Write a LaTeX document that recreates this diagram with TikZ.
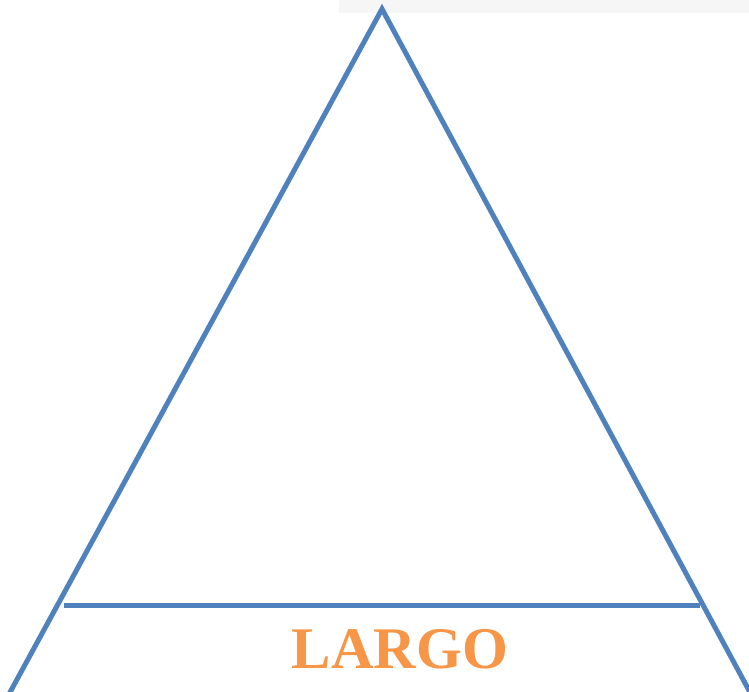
\documentclass[tikz,border=0pt]{standalone}
\usepackage{fontspec}
\setmainfont{Liberation Serif}
\definecolor{lineblue}{HTML}{4F81BD}
\definecolor{txtorange}{HTML}{F79646}
\definecolor{scanbar}{HTML}{F6F6F6}
\begin{document}
\begin{tikzpicture}[x=1pt,y=-1pt,
  edge/.style={draw=lineblue,line width=5pt,line join=miter},
  label/.style={text=txtorange,font=\fontsize{59}{59}\selectfont\bfseries,inner sep=0pt,anchor=base}]
\useasboundingbox (0,0) rectangle (749,692);
\clip (0,0) rectangle (749,692);
\fill[scanbar] (339,0) rectangle (749,13);
\coordinate (apex) at (382,9);
\coordinate (bl) at (8,696);
\coordinate (br) at (752,696);
\coordinate (hl) at (64,605);
\coordinate (hr) at (700,605);
\draw[edge] (bl) -- (apex) -- (br);
\draw[edge,line cap=butt] (hl) -- (hr);
\node[label] (largo) at (400,668) {LARGO};
\end{tikzpicture}
\end{document}
